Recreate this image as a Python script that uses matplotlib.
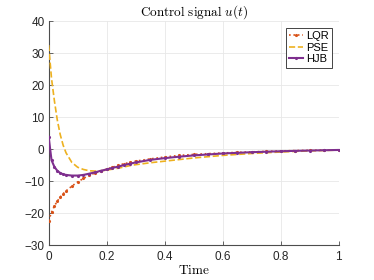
import matplotlib
matplotlib.use('Agg')
from matplotlib import pyplot as plt
import numpy as np

plt.rcParams['font.family'] = ['Liberation Sans', 'DejaVu Sans']
plt.rcParams['mathtext.fontset'] = 'cm'

# time samples
t = [0, 0.01, 0.02, 0.03, 0.04, 0.05, 0.06, 0.08, 0.10, 0.12, 0.14, 0.16,
     0.18, 0.20, 0.22, 0.24, 0.26, 0.28, 0.30, 0.35, 0.40, 0.45, 0.50, 0.55,
     0.60, 0.65, 0.70, 0.75, 0.80, 0.85, 0.90, 0.95, 1.00]

u_lqr = [-22.4, -19.8, -17.8, -16.3, -15.0, -14.0, -13.1, -11.6, -10.3, -9.2,
         -8.2, -7.5, -6.9, -6.3, -5.7, -5.1, -4.6, -4.2, -3.8, -3.1, -2.5,
         -2.0, -1.7, -1.45, -1.25, -1.05, -0.9, -0.75, -0.6, -0.5, -0.42,
         -0.36, -0.3]

u_pse = [32.5, 22.0, 15.0, 9.0, 4.5, 1.2, -1.2, -4.2, -5.7, -6.4, -6.8, -6.9,
         -6.8, -6.6, -6.3, -6.0, -5.6, -5.2, -4.9, -4.3, -3.8, -3.3, -2.8,
         -2.4, -2.0, -1.7, -1.4, -1.15, -0.95, -0.75, -0.6, -0.45, -0.35]

u_hjb = [3.9, -3.5, -5.6, -6.8, -7.5, -7.9, -8.1, -8.3, -8.3, -8.1, -7.7,
         -7.3, -6.8, -6.4, -5.9, -5.5, -5.0, -4.6, -4.2, -3.4, -2.85, -2.4,
         -2.0, -1.7, -1.4, -1.2, -1.0, -0.85, -0.7, -0.58, -0.48, -0.38, -0.3]

xticks = [0, 0.2, 0.4, 0.6, 0.8, 1]
xticklabels = ['0', '0.2', '0.4', '0.6', '0.8', '1']
yticks = [-30, -20, -10, 0, 10, 20, 30, 40]

fig = plt.figure(figsize=(3.74, 2.8), dpi=100)
ax = fig.add_axes([0.130, 0.125, 0.776, 0.800])

# lines above the spines, like matlab draws them
ax.plot(t, u_lqr, ':', marker='.', ms=2.5, lw=1.2, color='#D95319', label='LQR', zorder=3)
ax.plot(t, u_pse, '--', lw=1.2, color='#EDB120', label='PSE', zorder=3)
ax.plot(t, u_hjb, '-', marker='.', ms=2.5, lw=1.5, color='#7E2F8E', label='HJB', zorder=3)

ax.set_xlim(0, 1)
ax.set_ylim(-30, 40)
ax.set_xticks(xticks)
ax.set_xticklabels(xticklabels)
ax.set_yticks(yticks)
ax.grid(True, color='#e8e8e8', lw=0.6)
ax.set_axisbelow(True)
for s in ['top', 'right']:
    ax.spines[s].set_visible(False)
for s in ['left', 'bottom']:
    ax.spines[s].set_color('#4d4d4d')
    ax.spines[s].set_linewidth(0.8)
ax.tick_params(direction='in', length=3, width=0.6, color='#4d4d4d',
               labelcolor='#262626', labelsize=8.5, pad=3)
ax.tick_params(axis='x', pad=4)

ax.set_title(r'$\mathrm{Control\ signal}\ u(t)$', fontsize=9.5, pad=4)
ax.set_xlabel(r'$\mathrm{Time}$', fontsize=9.5, labelpad=1)

leg = ax.legend(loc='upper right', fontsize=8, handlelength=1.2,
                handletextpad=0.3, borderpad=0.3, labelspacing=0.15,
                fancybox=False, framealpha=1, borderaxespad=0.6)
leg.get_frame().set_edgecolor('#262626')
leg.get_frame().set_linewidth(0.6)

fig.savefig('out.png', dpi=100)
